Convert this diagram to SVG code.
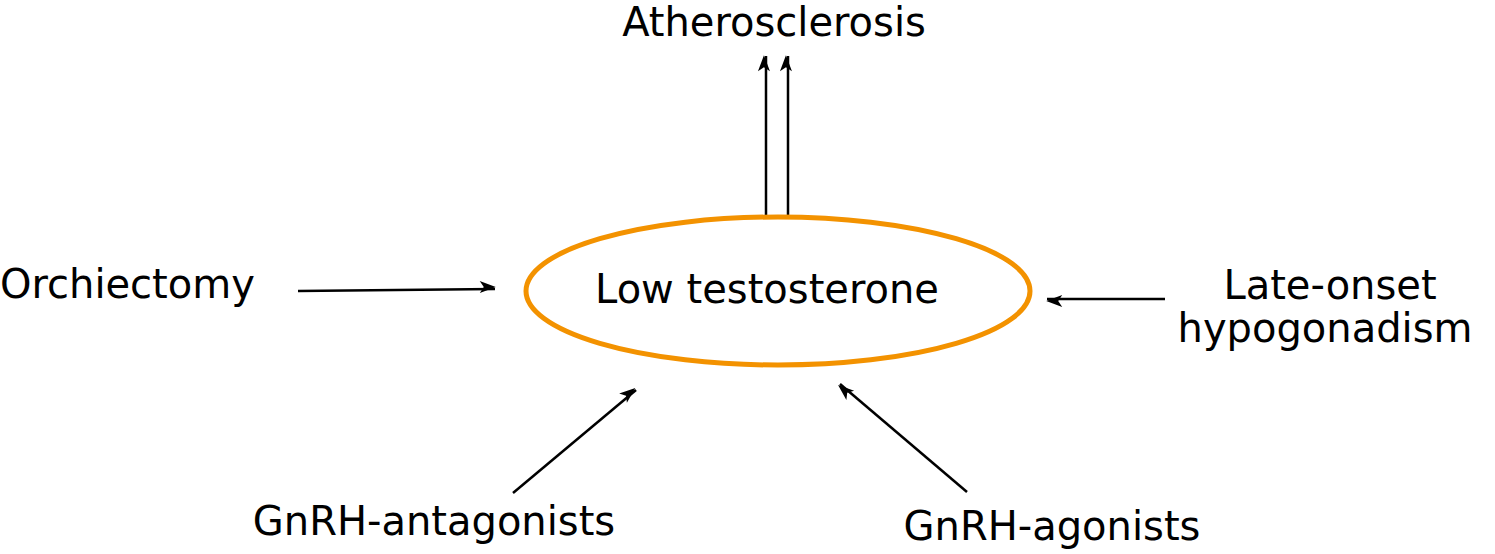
<svg xmlns="http://www.w3.org/2000/svg" width="1495" height="554" viewBox="0 0 1495 554">
<style>
text{font-family:"DejaVu Sans",sans-serif;font-size:40px;fill:#000}
.c line{stroke:#000;stroke-width:2.5;marker-end:url(#a)}
</style>
<defs><marker id="a" viewBox="0 0 10 10" refX="9" refY="5" markerWidth="8" markerHeight="8" markerUnits="userSpaceOnUse" orient="auto" style="overflow:visible"><path d="M0,0 L20,5 L0,10 L5,5 Z" transform="translate(-10,-2.5) scale(1,1.5) translate(0,-1.7)" fill="#000"/></marker></defs>
<rect width="1495" height="554" fill="#fff"/>
<g class="c">
<line x1="766" y1="218" x2="766" y2="56"/>
<line x1="788" y1="218" x2="788" y2="56"/>
<line x1="298" y1="291" x2="495" y2="289"/>
<line x1="1165" y1="299" x2="1047" y2="299"/>
<line x1="513" y1="493" x2="636" y2="390"/>
<line x1="967" y1="492" x2="840" y2="384"/>
</g>
<g id="low"><ellipse cx="778" cy="291" rx="252" ry="74" fill="none" stroke="#F39200" stroke-width="5"/><text x="767" y="303" text-anchor="middle">Low testosterone</text></g>
<g id="athero"><text x="774" y="36" text-anchor="middle">Atherosclerosis</text></g>
<g id="orch"><text x="0" y="298">Orchiectomy</text></g>
<g id="late"><text x="1330" y="299" text-anchor="middle">Late-onset</text><text x="1325" y="342" text-anchor="middle">hypogonadism</text></g>
<g id="ant"><text x="434" y="535" text-anchor="middle">GnRH-antagonists</text></g>
<g id="ago"><text x="1052" y="540" text-anchor="middle">GnRH-agonists</text></g>
</svg>
